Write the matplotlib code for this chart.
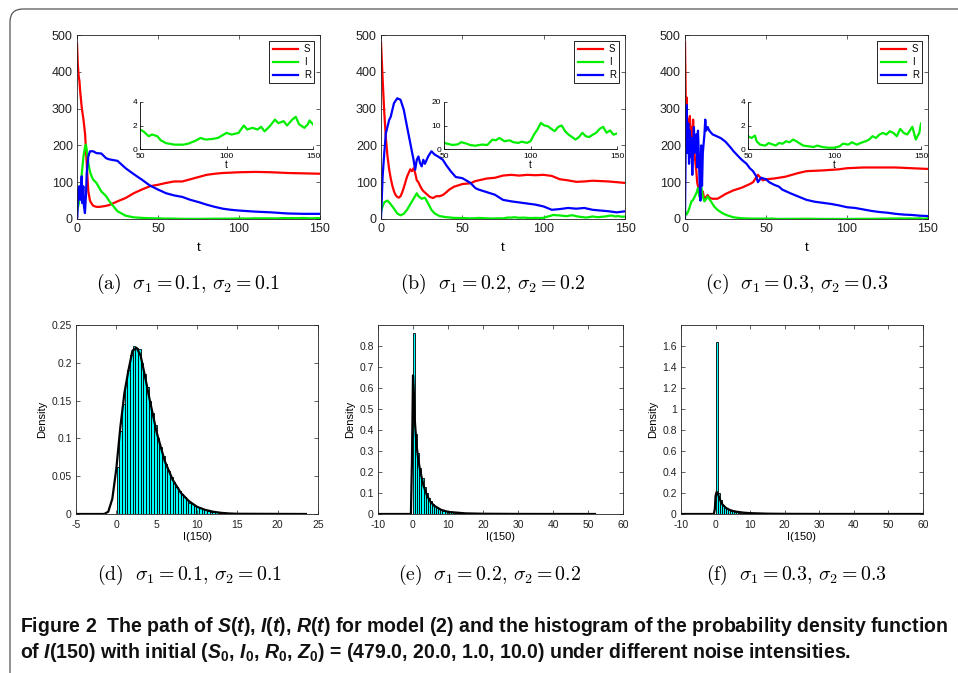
import numpy as np
import matplotlib
matplotlib.use('Agg')
import matplotlib.pyplot as plt
from matplotlib.patches import FancyBboxPatch

plt.rcParams['font.family'] = 'Liberation Sans'
plt.rcParams['axes.unicode_minus'] = False
plt.rcParams['mathtext.fontset'] = 'custom'
plt.rcParams['mathtext.rm'] = 'Liberation Sans:bold'
plt.rcParams['mathtext.bf'] = 'Liberation Sans:bold'
plt.rcParams['mathtext.it'] = 'Liberation Sans:italic:bold'
plt.rcParams['mathtext.bfit'] = 'Liberation Sans:italic:bold'

# ---- sample paths, panel (a) sigma = 0.1
t_a_S = [0, 0.5, 1, 1.5, 2, 3, 4, 5, 5.5, 6, 6.5, 7, 8, 9, 10, 12, 14, 17, 20, 25, 30, 35, 40, 45, 50,
         55, 60, 65, 70, 75, 80, 85, 90, 100, 110, 120, 130, 140, 150]
S_a = [477, 420, 390, 375, 345, 300, 270, 230, 190, 150, 110, 75, 50, 42, 36, 33, 33, 35, 38, 48, 57, 70, 80, 89, 93,
       98, 102, 102, 108, 114, 120, 123, 125, 127, 128, 127, 125, 124, 123]
t_a_I = [0, 1, 2, 3, 4, 5, 5.5, 6, 7, 8, 9, 10, 12, 15, 18, 20, 25, 30, 35, 40, 45,
         50, 52, 55, 57, 60, 62, 65, 70, 75, 78, 82, 85, 88, 92, 95, 100, 103, 107, 110, 112,
         115, 118, 120, 122, 125, 128, 130, 133, 135, 138, 140, 142, 145, 147, 148, 150]
I_a = [20, 40, 70, 125, 170, 197, 202, 188, 152, 129, 116, 107, 98, 75, 62, 48, 21, 9, 4.5, 3, 2,
       1.66, 1.5, 1.09, 1.23, 1.09, 0.74, 0.5, 0.37, 0.37, 0.46, 0.7, 0.94, 0.8, 0.86, 0.94, 1.37, 1.23, 1.37, 2.0, 1.66,
       1.8, 1.66, 1.89, 1.5, 1.94, 2.5, 2.2, 2.37, 2.0, 2.5, 2.74, 2.1, 1.8, 2.1, 2.43, 2.1]
t_a_R = [0, 0.2, 0.8, 1.4, 1.9, 2.3, 2.9, 3.3, 3.9, 4.3, 4.9, 5.6, 6, 7, 8, 10, 12, 15, 18, 20, 25, 30, 35, 40, 45,
         50, 55, 60, 65, 70, 75, 80, 85, 90, 95, 100, 110, 120, 130, 140, 150]
R_a = [1, 5, 80, 89, 52, 70, 116, 43, 89, 34, 16, 70, 125, 170, 184, 184, 179, 178, 165, 162, 158, 138, 122, 107, 91,
       80, 70, 64, 60, 52, 46, 39, 33, 28, 25, 23, 20, 18, 15, 14, 14]

# ---- panel (b) sigma = 0.2
t_b_S = [0, 1, 2, 3, 4, 5, 6, 7, 8, 9, 10, 11, 12, 13, 14, 15, 16, 17, 18, 19, 20, 21, 22, 23, 24, 25, 26,
         28, 30, 32, 34, 36, 38, 40, 42, 45, 48, 50, 55, 58, 60, 65, 70, 75, 80, 85, 90, 95, 100,
         105, 110, 115, 120, 125, 130, 140, 150]
S_b = [480, 380, 290, 220, 170, 135, 110, 90, 75, 65, 60, 58, 62, 72, 85, 100, 115, 125, 135, 130, 138, 125, 105, 100,
       90, 82, 76, 68, 60, 57, 62, 62, 65, 72, 80, 88, 92, 95, 97, 103, 105, 110, 112, 118, 120, 118, 120, 119, 120,
       117, 108, 105, 101, 102, 104, 102, 98]
t_b_I = [0, 1, 2, 3, 4, 5, 6, 8, 10, 12, 14, 16, 18, 20, 22, 23, 25, 27, 29, 31, 33, 36, 40, 45,
         50, 55, 58, 60, 63, 65, 68, 72, 75, 78, 80, 82, 85, 88, 90, 93, 95, 98, 100, 102, 104, 106, 108, 110,
         112, 114, 116, 118, 120, 122, 124, 126, 128, 130, 132, 134, 136, 138, 140, 142, 144, 146, 148, 150]
I_b = [20, 35, 45, 48, 50, 45, 40, 28, 15, 10, 14, 25, 40, 55, 70, 62, 55, 58, 42, 25, 15, 8, 5, 3,
       2.6, 1.7, 2.0, 2.9, 2.3, 1.7, 1.4, 1.9, 1.7, 4.0, 3.7, 4.7, 3.3, 3.7, 2.9, 2.6, 3.1, 2.6, 3.3, 6.1, 8.3, 11.1,
       10, 9.7, 8.6, 7.6, 9.4, 10, 7.6, 6.1, 5.1, 4, 5.1, 6.9, 5.4, 5.1, 6.1, 6.9, 8.6, 9.4, 6.9, 7.9, 6.1, 6.6]
t_b_R = [0, 1, 2, 3, 4, 5, 6, 7, 8, 10, 12, 14, 16, 18, 20, 21, 22, 23, 24, 25, 26, 27, 29, 31, 33, 35, 38, 40,
         43, 46, 50, 55, 58, 60, 65, 70, 75, 80, 85, 90, 95, 100, 105, 110, 115, 120, 125, 130, 135, 140, 145, 150]
R_b = [1, 116, 179, 233, 251, 269, 278, 297, 315, 328, 324, 297, 251, 206, 161, 134, 161, 170, 152, 143, 161, 150,
       170, 184, 175, 170, 161, 147, 129, 114, 111, 98, 84, 80, 73, 66, 52, 48, 45, 42, 39, 34, 25, 27, 30, 28, 30,
       25, 23, 21, 18, 21]

# ---- panel (c) sigma = 0.3
t_c_S = [0, 0.3, 0.6, 1, 1.5, 2, 2.5, 3, 3.5, 4, 4.5, 5, 5.5, 6, 7, 7.5, 8, 9, 10, 11, 12, 13, 14, 15, 17,
         20, 22, 25, 30, 35, 40, 42, 45, 48, 50, 55, 62, 70, 75, 85, 95, 100, 110, 120, 130, 140, 150]
S_c = [480, 380, 270, 330, 180, 270, 200, 280, 220, 250, 180, 270, 200, 170, 130, 100, 90, 65, 60, 75, 50, 60, 65,
       58, 55, 55, 60, 68, 78, 85, 95, 100, 120, 105, 108, 110, 115, 125, 130, 132, 135, 138, 140, 140, 140, 138, 136]
t_c_I = [0, 1, 2, 3, 4, 5, 6, 7, 8, 9, 10, 11, 12, 14, 16, 18, 20, 23, 26, 30, 35, 40, 45,
         50, 52, 54, 55, 57, 60, 62, 64, 66, 68, 70, 72, 74, 76, 78, 80, 82, 85, 88, 90, 93, 96, 100, 103,
         105, 108, 110, 113, 115, 118, 120, 122, 124, 126, 128, 130, 132, 134, 136, 138, 140, 142, 144,
         145, 147, 148, 149, 150]
I_c = [20, 12, 21, 34, 48, 52, 61, 70, 84, 60, 89, 61, 48, 61, 48, 34, 25, 16, 10, 4.5, 2, 1.2, 1,
       1.09, 0.94, 1.14, 0.66, 0.37, 0.29, 0.51, 0.4, 0.3, 0.51, 0.45, 0.66, 0.57, 0.8, 0.66, 0.46, 0.29, 0.23,
       0.17, 0.29, 0.17, 0.11, 0.11, 0.23, 0.46, 0.37, 0.57, 0.37, 0.51, 0.66, 0.8, 1.09, 0.94, 1.23, 1.37, 1.23,
       1.51, 1.37, 1.09, 1.71, 1.37, 1.23, 1.66, 1.89, 0.8, 1.09, 1.37, 2.17]
t_c_R = [0, 0.5, 1, 1.5, 2, 2.5, 3, 3.5, 4, 4.5, 5, 5.5, 6, 7, 7.5, 8, 8.5, 9, 9.5, 10, 10.5, 11, 12, 12.5, 13,
         14, 15, 17, 20, 22, 25, 28, 30, 33, 35, 38, 40, 42, 44, 45, 47, 50, 52, 55, 58, 60, 65, 70, 75, 80,
         85, 90, 95, 100, 105, 110, 115, 120, 125, 130, 135, 140, 145, 150]
R_c = [1, 240, 310, 180, 260, 150, 240, 170, 220, 120, 200, 250, 180, 230, 140, 240, 180, 100, 50, 200, 90, 180,
       230, 270, 240, 250, 240, 230, 224, 220, 210, 195, 184, 170, 161, 150, 138, 130, 116, 100, 112, 108, 100, 93,
       88, 80, 70, 61, 52, 47, 44, 41, 37, 32, 30, 26, 22, 19, 17, 14, 12, 11, 9, 8]

# ---- histograms of I(150)
bins_d = [0.2, 0.53, 0.86, 1.19, 1.52, 1.85, 2.18, 2.51, 2.84, 3.17, 3.5, 3.83, 4.16, 4.49, 4.82, 5.15, 5.48,
          5.81, 6.14, 6.47, 6.8, 7.13, 7.46, 7.79, 8.12, 8.45, 8.78, 9.11, 9.44, 9.77, 10.1, 10.43, 10.76,
          11.09, 11.42, 11.75, 12.08, 12.41, 12.74, 13.07]
dens_d = [0.062, 0.11, 0.145, 0.17, 0.19, 0.21, 0.222, 0.219, 0.218, 0.2, 0.185, 0.168, 0.15, 0.133, 0.118, 0.1,
          0.088, 0.077, 0.066, 0.057, 0.049, 0.042, 0.036, 0.03, 0.026, 0.022, 0.018, 0.015, 0.013, 0.011, 0.009,
          0.0075, 0.006, 0.005, 0.004, 0.0033, 0.0027, 0.0022, 0.0017, 0.0013]
kde_x_d = [-5, -1.5, -1, -0.5, 0, 0.5, 1, 1.5, 2, 2.5, 3, 3.5, 4, 5, 6, 7, 8, 9, 10, 11, 12, 13, 14, 15, 23.5]
kde_y_d = [0, 0, 0.003, 0.02, 0.06, 0.115, 0.16, 0.19, 0.216, 0.22, 0.21, 0.185, 0.158, 0.108, 0.07, 0.045, 0.028,
           0.017, 0.0095, 0.0055, 0.003, 0.0015, 0.0007, 0.0003, 0]

bins_ef = [0.3, 0.9, 1.5, 2.1, 2.7, 3.3, 3.9, 4.5, 5.1, 5.7, 6.3, 6.9, 7.5, 8.1, 8.7, 9.3, 9.9, 10.5, 11.1, 11.7,
           12.3, 12.9, 13.5, 14.1, 14.7]
dens_e = [0.86, 0.38, 0.29, 0.22, 0.17, 0.13, 0.1, 0.078, 0.061, 0.048, 0.038, 0.03, 0.024, 0.02, 0.016, 0.013,
          0.011, 0.009, 0.0075, 0.0063, 0.0053, 0.0045, 0.0038, 0.0032, 0.0027]
kde_x_e = [-10, -0.6, -0.3, 0, 0.2, 0.5, 1, 1.5, 2, 3, 4, 5, 6, 8, 10, 15, 20, 30, 40, 52]
kde_y_e = [0, 0, 0.25, 0.66, 0.6, 0.45, 0.33, 0.26, 0.21, 0.135, 0.088, 0.058, 0.04, 0.02, 0.01, 0.003, 0.0012,
           0.0003, 0.0001, 0]
dens_f = [1.64, 0.2, 0.13, 0.09, 0.066, 0.05, 0.039, 0.031, 0.025, 0.02, 0.016, 0.013, 0.011, 0.009, 0.0075,
          0.0062, 0.0052, 0.0044, 0.0037, 0.0031, 0.0026, 0.0022, 0.0018, 0.0015, 0.0012]
kde_x_f = [-10, -0.5, -0.2, 0, 0.3, 0.6, 1, 1.5, 2, 3, 4, 5, 6, 8, 10, 15, 20, 30, 60]
kde_y_f = [0, 0, 0.05, 0.17, 0.21, 0.2, 0.16, 0.12, 0.09, 0.058, 0.04, 0.029, 0.022, 0.013, 0.008, 0.003, 0.0013,
           0.0004, 0]

caps_top = [r'$\mathrm{(a)}\ \ \sigma_1 = 0.1,\,\sigma_2 = 0.1$', r'$\mathrm{(b)}\ \ \sigma_1 = 0.2,\,\sigma_2 = 0.2$',
            r'$\mathrm{(c)}\ \ \sigma_1 = 0.3,\,\sigma_2 = 0.3$']
caps_bot = [r'$\mathrm{(d)}\ \ \sigma_1 = 0.1,\,\sigma_2 = 0.1$', r'$\mathrm{(e)}\ \ \sigma_1 = 0.2,\,\sigma_2 = 0.2$',
            r'$\mathrm{(f)}\ \ \sigma_1 = 0.3,\,\sigma_2 = 0.3$']

W, H = 958, 673
fig = plt.figure(figsize=(W / 100, H / 100), dpi=100)


def px(l, t, r, b):
    # pixel box -> figure rect
    return [l / W, 1 - b / H, (r - l) / W, (b - t) / H]


def style(ax, fs=9):
    ax.tick_params(direction='in', top=True, right=True, length=3, width=0.5, labelsize=fs, pad=3,
                   colors='#222222')
    for s in ax.spines.values():
        s.set_linewidth(0.6)
        s.set_color('#222222')


def fmt(v, pos=None):
    return '%g' % v


def path_panel(box, ibox, tS, S, tI, I, tR, R, iymax):
    ax = fig.add_axes(px(*box))
    ax.plot(tS, S, color='r', lw=1.6, label='S')
    ax.plot(tI, I, color='#00ee00', lw=1.6, label='I')
    ax.plot(tR, R, color='b', lw=1.6, label='R')
    ax.set_xlim(0, 150)
    ax.set_ylim(0, 500)
    ax.set_xticks([0, 50, 100, 150])
    ax.set_yticks([0, 100, 200, 300, 400, 500])
    style(ax)
    ax.set_xlabel('t', fontsize=9.5, labelpad=5)
    leg = ax.legend(loc='upper right', fontsize=7, handlelength=2.6, borderpad=0.35, labelspacing=0.3,
                    handletextpad=0.6, borderaxespad=0.6, fancybox=False, framealpha=1)
    leg.get_frame().set_edgecolor('k')
    leg.get_frame().set_linewidth(0.6)

    ins = fig.add_axes(px(*ibox))
    ti = np.array(tI)
    Ii = np.array(I)
    m = ti >= 50
    ins.plot(ti[m], Ii[m], color='#00ee00', lw=1.6)
    ins.set_xlim(50, 150)
    ins.set_ylim(0, iymax)
    ins.set_xticks([50, 100, 150])
    ins.set_yticks([0, iymax / 2, iymax])
    ins.yaxis.set_major_formatter(fmt)
    ins.tick_params(direction='in', length=2, width=0.5, labelsize=6)
    ins.tick_params(axis='x', pad=3)
    ins.tick_params(axis='y', pad=2)
    ins.spines['top'].set_visible(False)
    ins.spines['right'].set_visible(False)
    for s in ('left', 'bottom'):
        ins.spines[s].set_linewidth(0.6)
    ins.set_xlabel('t', fontsize=7, labelpad=0)
    return ax


def hist_panel(box, centers, dens, width, kx, ky, xlim, xticks, ylim, yticks):
    ax = fig.add_axes(px(*box))
    ax.bar(centers, dens, width=width, color='#00ffff', edgecolor='k', linewidth=0.6)
    ax.plot(kx, ky, color='k', lw=1.6)
    ax.set_xlim(*xlim)
    ax.set_ylim(*ylim)
    ax.set_xticks(xticks)
    ax.set_yticks(yticks)
    ax.xaxis.set_major_formatter(fmt)
    ax.yaxis.set_major_formatter(fmt)
    style(ax, 7.5)
    ax.tick_params(axis='x', pad=4)
    ax.set_xlabel('I(150)', fontsize=8, labelpad=2)
    ax.set_ylabel('Density', fontsize=8, labelpad=3)
    return ax


path_panel((77, 35, 320, 219), (140, 102, 313, 149), t_a_S, S_a, t_a_I, I_a, t_a_R, R_a, 4)
path_panel((381, 35, 625, 219), (444, 102, 617, 149), t_b_S, S_b, t_b_I, I_b, t_b_R, R_b, 20)
path_panel((685, 35, 928, 219), (748, 102, 921, 149), t_c_S, S_c, t_c_I, I_c, t_c_R, R_c, 4)

hist_panel((76, 325, 318, 514), bins_d, dens_d, 0.33, kde_x_d, kde_y_d, (-5, 25), range(-5, 26, 5),
           (0, 0.25), [0, 0.05, 0.1, 0.15, 0.2, 0.25])
hist_panel((378, 325, 623, 514), bins_ef, dens_e, 0.6, kde_x_e, kde_y_e, (-10, 60), range(-10, 61, 10),
           (0, 0.9), [0, 0.1, 0.2, 0.3, 0.4, 0.5, 0.6, 0.7, 0.8])
hist_panel((681, 325, 923, 514), bins_ef, dens_f, 0.6, kde_x_f, kde_y_f, (-10, 60), range(-10, 61, 10),
           (0, 1.8), [0, 0.2, 0.4, 0.6, 0.8, 1.0, 1.2, 1.4, 1.6])

for cx, cap in zip([188, 493, 797], caps_top):
    fig.text(cx / W, 1 - 284 / H, cap, ha='center', va='center', fontsize=14.3, math_fontfamily='cm')
for cx, cap in zip([189, 490, 796], caps_bot):
    fig.text(cx / W, 1 - 575 / H, cap, ha='center', va='center', fontsize=14.3, math_fontfamily='cm')

line1 = (r'Figure 2  The path of $\mathbfit{S}$($\mathbfit{t}$), $\mathbfit{I}$($\mathbfit{t}$), '
         r'$\mathbfit{R}$($\mathbfit{t}$) for model (2) and the histogram of the probability density function')
line2 = (r'of $\mathbfit{I}$(150) with initial ($\mathbfit{S}_\mathbf{0}$, $\mathbfit{I}_\mathbf{0}$, '
         r'$\mathbfit{R}_\mathbf{0}$, $\mathbfit{Z}_\mathbf{0}$) = (479.0, 20.0, 1.0, 10.0) under different noise intensities.')
fig.text(20 / W, 1 - 627 / H, line1, ha='left', va='center', fontsize=14.05, fontweight='bold', color='#111111')
fig.text(20 / W, 1 - 653 / H, line2, ha='left', va='center', fontsize=14.05, fontweight='bold', color='#111111')

border = FancyBboxPatch((0.10, -0.5), 10.0, H / 100 - 0.09 + 0.5, boxstyle='round,pad=0,rounding_size=0.13',
                        transform=fig.dpi_scale_trans, fill=False, edgecolor='#555555', lw=0.9)
fig.add_artist(border)

fig.savefig('out.png', dpi=100)
